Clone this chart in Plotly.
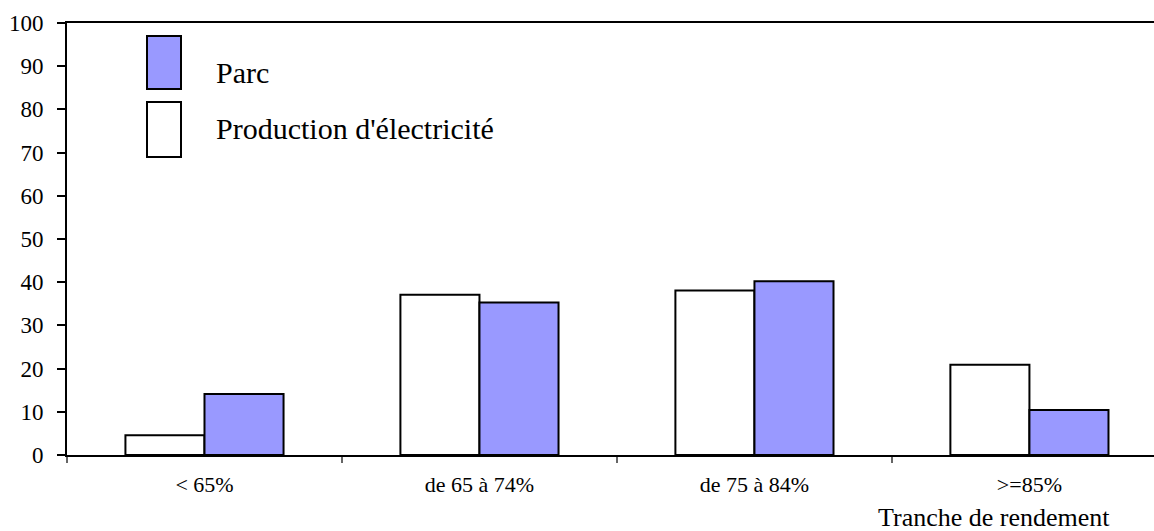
import plotly.graph_objects as go

# Tranches de rendement et parts (%) du parc et de la production d'électricité
tranches = ["< 65%", "de 65 à 74%", "de 75 à 84%", ">=85%"]
production = [4.6, 37.1, 38.1, 20.9]
parc = [14.1, 35.3, 40.2, 10.4]

SERIF = "Liberation Serif"
BLEU = "#9999FF"

fig = go.Figure()
fig.add_trace(go.Bar(
    x=tranches, y=production, name="Production d'électricité",
    marker=dict(color="white", line=dict(color="black", width=2)),
))
fig.add_trace(go.Bar(
    x=tranches, y=parc, name="Parc",
    marker=dict(color=BLEU, line=dict(color="black", width=2)),
))

# Légende dessinée à la main : grands rectangles et libellés
H = 432.0
legende = [("Parc", BLEU, 36, 89, 73), ("Production d'électricité", "white", 102, 157, 128)]
for texte, couleur, y_haut, y_bas, y_texte in legende:
    fig.add_shape(
        type="rect", xref="paper", yref="paper",
        x0=(147 - 67) / 1087, x1=(181 - 67) / 1087,
        y0=(455 - y_bas) / H, y1=(455 - y_haut) / H,
        fillcolor=couleur, line=dict(color="black", width=2),
    )
    fig.add_annotation(
        text=texte, xref="paper", yref="paper",
        x=(214 - 67) / 1087, y=(455 - y_texte) / H,
        xanchor="left", yanchor="middle", showarrow=False,
        font=dict(family=SERIF, size=30, color="black"),
    )

fig.add_annotation(
    text="Tranche de rendement", xref="paper", yref="paper",
    x=(876 - 67) / 1087, y=(455 - 517) / H,
    xanchor="left", yanchor="middle", showarrow=False,
    font=dict(family=SERIF, size=26, color="black"),
)

fig.update_layout(
    width=1154, height=531,
    margin=dict(l=67, r=0, t=23, b=76),
    paper_bgcolor="white", plot_bgcolor="white",
    barmode="group", bargap=0.425, bargroupgap=0,
    showlegend=False,
    xaxis=dict(
        range=[-0.5, 3.453], type="category",
        showline=True, linecolor="black", linewidth=1.5, mirror=True,
        ticks="outside", tickson="boundaries", ticklen=6, tickcolor="#666666",
        tickwidth=1.5, showgrid=False, ticklabelstandoff=9,
        tickfont=dict(family=SERIF, size=22, color="black"),
    ),
    yaxis=dict(
        range=[0, 100], dtick=10, tick0=0,
        showline=True, linecolor="black", linewidth=2,
        ticks="outside", ticklen=8, tickcolor="black", tickwidth=1.5,
        showgrid=False, zeroline=False, ticklabelstandoff=9,
        tickfont=dict(family=SERIF, size=23, color="black"),
    ),
)

fig.write_html("out.html")
